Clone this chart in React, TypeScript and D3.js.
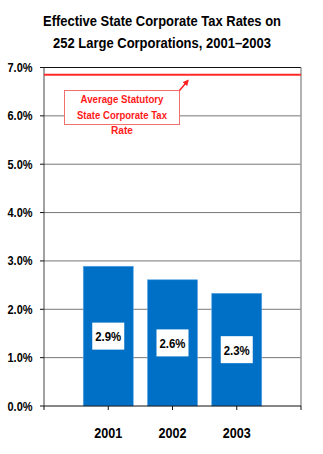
import React from "react";
import * as d3 from "d3";

const years = ["2001", "2002", "2003"];
const rates = [2.89, 2.61, 2.33];
const rateLabels = ["2.9%", "2.6%", "2.3%"];
const statutoryRate = 6.85;
const yTicks = [0, 1, 2, 3, 4, 5, 6, 7];
const titleLines = ["Effective State Corporate Tax Rates on", "252 Large Corporations, 2001\u20132003"];
const noteLines = ["Average Statutory", "State Corporate Tax", "Rate"];

export default function App() {
  const W = 323, H = 454;
  const left = 44, right = 301, top = 67.5, bottom = 406;
  const y = d3.scaleLinear().domain([0, 7]).range([bottom, top]);
  const x = d3.scalePoint<string>().domain(years).range([left, right]).padding(1);
  const step = x.step();
  const barW = 50;
  const font = "'Liberation Sans', Arial, Helvetica, sans-serif";
  const catEdges = d3.range(0, years.length + 2).map((i) => left + i * step);

  return (
    <svg width={W} height={H} style={{ position: "absolute", left: 0, top: 0, background: "#fff" }} fontFamily={font}>
      <defs>
        <marker id="ah" viewBox="0 0 10 10" refX="8" refY="5" markerWidth="4" markerHeight="4" orient="auto">
          <path d="M0,0 L10,5 L0,10 z" fill="#ff2020" />
        </marker>
      </defs>
      {titleLines.map((t, i) => (
        <text key={t} x={162} y={25.5 + i * 22} textAnchor="middle" fontSize={15} fontWeight="bold" fill="#000"
          textLength={i === 0 ? 238 : 218} lengthAdjust="spacingAndGlyphs">{t}</text>
      ))}
      {yTicks.filter((t) => t > 0).map((t) => (
        <line key={t} x1={left} x2={right} y1={y(t)} y2={y(t)} stroke={t === 7 ? "#111" : "#777"} strokeWidth={1} />
      ))}
      <line x1={right} x2={right} y1={top} y2={bottom} stroke="#999" strokeWidth={1.5} />
      {years.map((yr, i) => (
        <rect key={yr} x={x(yr)! - barW / 2} y={y(rates[i])} width={barW} height={bottom - y(rates[i])}
          fill="#0070C6" stroke="#5aa6e6" strokeWidth={0.6} />
      ))}
      {years.map((yr, i) => {
        const cy = (y(rates[i]) + bottom) / 2;
        return (
          <g key={"l" + yr}>
            <rect x={x(yr)! - 16} y={cy - 13.5} width={32} height={27} fill="#fff" />
            <text x={x(yr)!} y={cy + 5} textAnchor="middle" fontSize={13} fontWeight="bold" fill="#000"
              textLength={26} lengthAdjust="spacingAndGlyphs">{rateLabels[i]}</text>
          </g>
        );
      })}
      <line x1={left} x2={left} y1={top} y2={bottom} stroke="#444" strokeWidth={1} />
      <line x1={left} x2={right} y1={bottom} y2={bottom} stroke="#111" strokeWidth={1} />
      {yTicks.map((t) => (
        <g key={"yt" + t}>
          <line x1={left - 4} x2={left} y1={y(t)} y2={y(t)} stroke="#111" />
          <text x={32.5} y={y(t) + 4.5} textAnchor="end" fontSize={12.5} fontWeight="bold" fill="#000"
            textLength={25} lengthAdjust="spacingAndGlyphs">{t.toFixed(1) + "%"}</text>
        </g>
      ))}
      {catEdges.map((cx, i) => (
        <line key={"xt" + i} x1={cx} x2={cx} y1={bottom} y2={bottom + 4} stroke="#111" />
      ))}
      {years.map((yr) => (
        <text key={"xl" + yr} x={x(yr)!} y={438} textAnchor="middle" fontSize={14} fontWeight="bold" fill="#000"
          textLength={28} lengthAdjust="spacingAndGlyphs">{yr}</text>
      ))}
      <line x1={left} x2={right} y1={y(statutoryRate)} y2={y(statutoryRate)} stroke="#ff2a2a" strokeWidth={2} />
      <rect x={64.5} y={90.5} width={115} height={34} fill="#fff" stroke="#f07070" strokeWidth={1} />
      <line x1={179.5} y1={90.5} x2={188} y2={80.5} stroke="#ff2020" strokeWidth={1.5} markerEnd="url(#ah)" />
      {noteLines.map((t, i) => (
        <text key={t} x={122} y={103 + i * 15.5} textAnchor="middle" fontSize={11.5} fontWeight="bold" fill="#ff1a1a"
          textLength={[83, 90, 22][i]} lengthAdjust="spacingAndGlyphs">{t}</text>
      ))}
    </svg>
  );
}
